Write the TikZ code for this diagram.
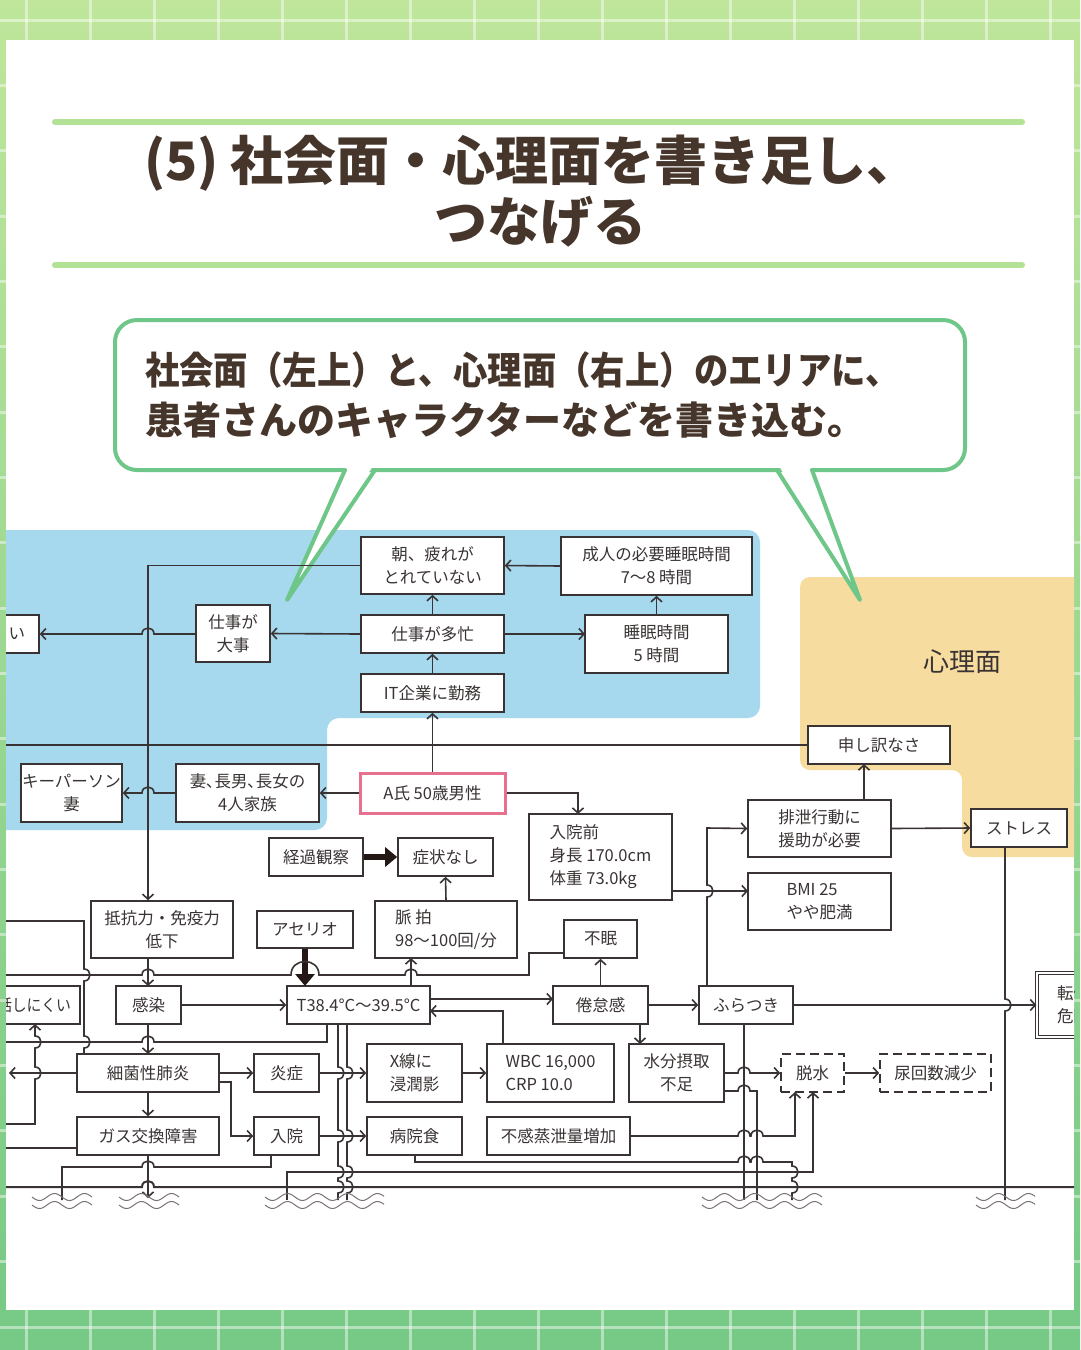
\documentclass[tikz,border=0pt]{standalone}
\usepackage{graphicx}
\usepackage{fontspec}
\newfontfamily\jp{Noto Sans CJK JP}
\usetikzlibrary{arrows.meta}
\definecolor{bgtop}{HTML}{BFE69B}
\definecolor{bgbot}{HTML}{76C986}
\definecolor{lc}{HTML}{3A3333}
\definecolor{titlec}{HTML}{45352A}
\definecolor{gline}{HTML}{B3E196}
\definecolor{bubc}{HTML}{6EC688}
\definecolor{bluec}{HTML}{A6D8EE}
\definecolor{orc}{HTML}{F7DCA0}
\definecolor{pinkc}{HTML}{E8708F}
\definecolor{wavec}{HTML}{7A7272}
\definecolor{fatc}{HTML}{231815}
\newcommand\myjp{\jp\fontsize{16.5}{23}\selectfont}
\begin{document}
\begin{tikzpicture}[x=1pt,y=-1pt,
  ln/.style={draw=lc,line width=1.6pt},
  arr/.style={ln,-{Straight Barb[length=5pt,width=11pt]}},
  box/.style={draw=lc,line width=1.6pt,fill=white,inner sep=1pt,align=center,font=\myjp,text=lc},
  lbox/.style={box,align=left},
  dbox/.style={box,dash pattern=on 9pt off 5pt},
  fat/.style={draw=fatc,line width=6pt,-{Triangle[length=12pt,width=19pt]}},
  hr/.style 2 args={insert path={-- (#1-6,#2) .. controls +(0,-8) and +(0,-8) .. (#1+6,#2)}},
  hl/.style 2 args={insert path={-- (#1+6,#2) .. controls +(0,-8) and +(0,-8) .. (#1-6,#2)}},
  hlbig/.style 2 args={insert path={-- (#1+14,#2) .. controls +(0,-18) and +(0,-18) .. (#1-14,#2)}},
  vd/.style 2 args={insert path={-- (#1,#2-6) .. controls +(8,0) and +(8,0) .. (#1,#2+6)}},
  vu/.style 2 args={insert path={-- (#1,#2+6) .. controls +(8,0) and +(8,0) .. (#1,#2-6)}},
  sz/.style 2 args={minimum width=#1pt,minimum height=#2pt},
  titletext/.style={font=\jp\bfseries\fontsize{53}{60}\selectfont,text=titlec,inner sep=0pt},
  bubtext/.style={font=\jp\bfseries\fontsize{38}{44}\selectfont,text=titlec,inner sep=0pt,anchor=west},
]
\useasboundingbox (0,0) rectangle (1080,1350);
% background
\shade[top color=bgtop,bottom color=bgbot] (0,0) rectangle (1080,1350);
\foreach \i in {0,...,16} \draw[white,opacity=0.45,line width=3pt] (26+64*\i,0) -- (26+64*\i,1350);
\foreach \i in {0,...,20} \draw[white,opacity=0.45,line width=3pt] (0,20+65.35*\i) -- (1080,20+65.35*\i);
\fill[white] (6,40) rectangle (1074,1310);

% title
\draw[gline,line width=6pt,line cap=round] (55,122) -- (1022,122);
\draw[gline,line width=6pt,line cap=round] (55,265) -- (1022,265);
\node[titletext] (t1) at (532,163) {(5) 社会面・心理面を書き足し、};
\node[titletext] (t2) at (540,222) {つなげる};

% regions
\begin{scope}
\clip (6,40) rectangle (1074,1310);
\fill[bluec,rounded corners=12pt] (-30,530) -- (760,530) -- (760,718) -- (327,718) -- (327,830) -- (-30,830) -- cycle;
\fill[orc,rounded corners=10pt] (800,577) -- (1110,577) -- (1110,857) -- (962,857) -- (962,770) -- (800,770) -- cycle;
\end{scope}
\node[font=\jp\fontsize{26}{30}\selectfont,text=lc] (shinri) at (962,662) {心理面};

% bubble
\draw[bubc,line width=4pt,fill=white,rounded corners=22pt] (115,320) rectangle (965,470);
\fill[white] (347,466) -- (373,466) -- (287,600) -- cycle;
\draw[bubc,line width=4pt,line cap=round,line join=round] (345,470) -- (287,600) -- (375,470);
\fill[white] (779,466) -- (810,466) -- (860,600) -- cycle;
\draw[bubc,line width=4pt,line cap=round,line join=round] (777,470) -- (860,600) -- (812,470);
\node[bubtext] (b1) at (145,370) {\scalebox{0.905}[1]{社会面（左上）と、心理面（右上）のエリアに、}};
\node[bubtext] (b2) at (145,420) {患者さんのキャラクターなどを書き込む。};

\begin{scope}
\clip (6,40) rectangle (1074,1310);
% nodes
\node[box,sz={143}{57}] (asa) at (432.5,565.5) {朝、疲れが\\とれていない};
\node[box,sz={191}{58}] (seijin) at (656.5,566) {成人の必要睡眠時間\\7〜8 時間};
\node[box,sz={143}{38}] (tabou) at (432.5,634) {仕事が多忙};
\node[box,sz={143}{58}] (suimin) at (656.5,644) {睡眠時間\\5 時間};
\node[box,sz={143}{38}] (it) at (432.5,693) {IT企業に勤務};
\node[box,sz={74}{57}] (daiji) at (233,633.5) {仕事が\\大事};
\node[box,sz={99}{38}] (nai) at (-10.5,634) {\hspace*{55pt}い};
\node[box,sz={101}{58}] (key) at (71.5,793) {キーパーソン\\妻};
\node[box,sz={143}{58}] (kazoku) at (247.5,793) {妻､長男､長女の\\4人家族};
\node[box,draw=pinkc,line width=3pt,sz={145}{40}] (ashi) at (432.5,793) {A氏 50歳男性};
\node[box,sz={142}{38}] (moushi) at (879,745) {申し訳なさ};
\node[lbox,sz={143}{57}] (haisetsu) at (819.5,828.5) {排泄行動に\\援助が必要};
\node[box,sz={96}{38}] (stress) at (1019,828) {ストレス};
\node[lbox,sz={143}{57}] (bmi) at (819.5,901.5) {BMI 25\\やや肥満};
\node[lbox,sz={143}{86}] (nyuinmae) at (600.5,857) {入院前\\身長 170.0cm\\体重 73.0kg};
\node[box,sz={94}{38}] (keika) at (316,857) {経過観察};
\node[box,sz={95}{38}] (shoujou) at (445.5,857) {症状なし};
\node[box,sz={142}{57}] (teikou) at (162,929.5) {抵抗力・免疫力\\低下};
\node[box,sz={96}{37}] (aserio) at (305,929.5) {アセリオ};
\node[lbox,sz={142}{57}] (myaku) at (446,929.5) {脈 拍\\98〜100回/分};
\node[box,sz={73}{38}] (fumin) at (600.5,939) {不眠};
\node[box,sz={100}{38}] (hanashi) at (30,1005) {\hspace*{8pt}\scalebox{0.9}[1]{話しにくい}};
\node[box,sz={65}{38}] (kansen) at (148.5,1005) {感染};
\node[box,sz={143}{38}] (temp) at (358.5,1005) {T38.4°C〜39.5°C};
\node[box,sz={95}{38}] (kentai) at (600.5,1005) {倦怠感};
\node[box,sz={94}{38}] (furatsuki) at (746,1005) {ふらつき};
\node[box,double,double distance=2.2pt,line width=1.3pt,sz={73}{64}] (kiken) at (1073.5,1005) {転倒\\危険};
\node[box,sz={142}{38}] (saikin) at (148,1073) {細菌性肺炎};
\node[box,sz={65}{38}] (enshou) at (286.5,1073) {炎症};
\node[lbox,sz={95}{58}] (xsen) at (414.5,1073) {X線に\\浸潤影};
\node[lbox,sz={127}{58}] (wbc) at (550.5,1073) {WBC 16,000\\CRP 10.0};
\node[box,sz={95}{58}] (suibun) at (676.5,1073) {水分摂取\\不足};
\node[dbox,sz={63}{38}] (dassui) at (812.5,1073) {脱水};
\node[dbox,sz={111}{38}] (nyou) at (935.5,1073) {尿回数減少};
\node[box,sz={142}{38}] (gas) at (148,1136) {ガス交換障害};
\node[box,sz={65}{38}] (nyuin) at (286.5,1136) {入院};
\node[box,sz={95}{38}] (byouin) at (414.5,1136) {病院食};
\node[box,sz={143}{38}] (fukan) at (558.5,1136) {不感蒸泄量増加};

% connectors: social area
\draw[arr] (seijin.west) -- (asa.east);
\draw[arr] (tabou.north) -- (asa.south);
\draw[arr] (it.north) -- (tabou.south);
\draw[arr] (tabou.east) -- (585,634);
\draw[arr] (suimin.north) -- (seijin.south);
\draw[arr] (tabou.west) -- (daiji.east);
\draw[arr] (196,634) [hl={148}{634}] -- (nai.east);
\draw[arr] (asa.west) -- (148,565.5) -- (teikou.north -| 148,0);
\draw[ln] (moushi.west) -- (6,745);
\draw[arr] (ashi.north) -- (it.south);
\draw[arr] (ashi.west) -- (kazoku.east);
\draw[arr] (kazoku.west) [hl={148}{793}] -- (key.east);
\draw[arr] (ashi.east) -- (578,793) -- (578,814);

% psychological / right
\draw[arr] (672,891) -- (748,891);
\draw[arr] (707,986) [vu={707}{891}] -- (707,828) -- (haisetsu.west);
\draw[arr] (haisetsu.east) -- (stress.west);
\draw[arr] (864,800) -- (864,764);
\draw[ln] (1005,847) [vd={1005}{1005}] -- (1005,1200);
\draw[arr] (furatsuki.east) -- (kiken.west);

% middle
\draw[fat] (keika.east) -- (shoujou.west);
\draw[arr] (myaku.north) -- (shoujou.south);
\draw[arr] (148,958) -- (148,986);
\draw[fat] (aserio.south) -- (305,986);
\draw[arr] (411,986) -- (411,958);
\draw[ln] (564,953) -- (529,953) -- (529,975) [hl={411}{975}] [hlbig={305}{975}] [hl={148}{975}] -- (6,975);
\draw[arr] (kansen.east) -- (temp.west);
\draw[arr] (430,999) -- (553,999);
\draw[arr] (503,1044) -- (503,1011) -- (430,1011);
\draw[arr] (kentai.north) -- (fumin.south);
\draw[arr] (kentai.east) -- (furatsuki.west);
\draw[arr] (640,1024) -- (640,1044);
\draw[ln] (327,1024) -- (327,1042) [hl={148}{1042}] -- (6,1042);
\draw[ln] (338,1024) [vd={338}{1073}] [vd={338}{1136}] [vd={338}{1172}] [vd={338}{1187}] -- (338,1200);
\draw[ln] (347,1024) [vd={347}{1073}] [vd={347}{1136}] [vd={347}{1172}] [vd={347}{1187}] -- (347,1200);

% lower left
\draw[arr] (148,1024) -- (148,1054);
\draw[arr] (saikin.east) -- (enshou.west);
\draw[arr] (saikin.south) -- (gas.north);
\draw[arr] (219,1082) -- (231,1082) -- (231,1136) -- (nyuin.west);
\draw[arr] (enshou.east) -- (xsen.west);
\draw[arr] (nyuin.east) -- (byouin.west);
\draw[arr] (xsen.east) -- (wbc.west);
\draw[arr] (saikin.west) -- (9,1073);
\draw[ln] (6,921) -- (84,921) [vd={84}{975}] [vd={84}{1042}] -- (84,1054);
\draw[arr] (6,1124) -- (35,1124) [vu={35}{1073}] [vu={35}{1042}] -- (35,1024);
\draw[ln] (77,1148) -- (6,1148);
\draw[ln] (271,1155) -- (271,1167) [hl={148}{1167}] -- (62,1167) -- (62,1200);
\draw[arr] (gas.south) -- (148,1198);
\draw[draw=lc,line width=2pt] (6,1187) [hr={148}{1187}] -- (1074,1187);

% lower right
\draw[arr] (287,1200) -- (287,1172) -- (813,1172) -- (813,1092);
\draw[ln] (415,1155) -- (415,1162) [hr={744}{1162}] [hr={757}{1162}] -- (792,1162) [vd={792}{1172}] [vd={792}{1187}] -- (792,1200);
\draw[arr] (fukan.east) [hr={744}{1136}] [hr={757}{1136}] -- (795,1136) -- (795,1092);
\draw[ln] (724,1091) [hr={744}{1091}] -- (757,1091) -- (757,1200);
\draw[arr] (suibun.east) [hr={744}{1073}] -- (dassui.west);
\draw[ln] (744,1024) -- (744,1200);
\draw[arr] (dassui.east) -- (nyou.west);

% cut marks
\foreach \a/\b in {32/92,119/179,265/384,702/822,976/1035}{
  \draw[wavec,line width=1pt] plot[domain=\a:\b,samples=60,smooth] (\x,{1197+3.5*sin(12*(\x-\a))});
  \draw[wavec,line width=1pt] plot[domain=\a:\b,samples=60,smooth] (\x,{1205+3.5*sin(12*(\x-\a))});
}
\end{scope}
\end{tikzpicture}
\end{document}
